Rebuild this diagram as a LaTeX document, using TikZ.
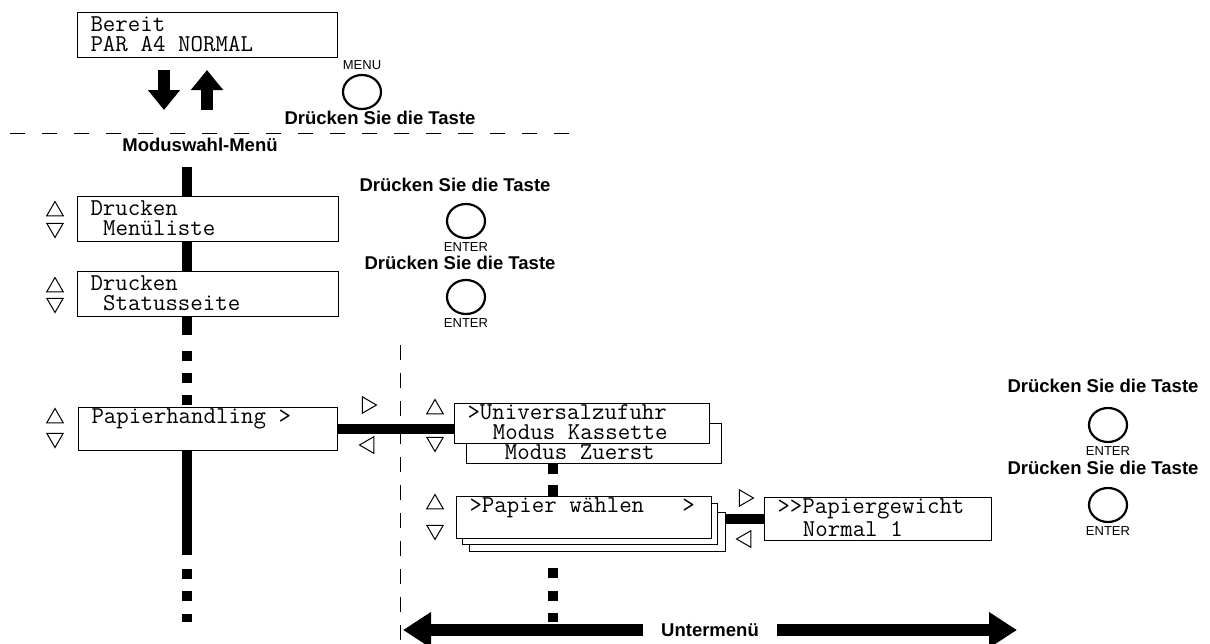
\documentclass[tikz,border=0pt]{standalone}
\usepackage{fontspec}
\setmainfont{Liberation Sans}
\usetikzlibrary{shapes.geometric,arrows.meta,positioning}

\newcommand\lcdstrut{\rule[-4pt]{0pt}{20pt}}
\newcommand\lcdsp{\leavevmode\hbox to 0.525em{}}

\tikzset{
  lcd/.style={rectangle, draw, line width=1pt, fill=white, anchor=north west,
    align=left, inner xsep=13pt, inner ysep=0pt, minimum height=45pt,
    text width=234pt, font=\fontsize{24.2}{20}\selectfont\ttfamily,
    execute at begin node=\lcdstrut, execute at end node=\lcdstrut},
  key/.style={ellipse, draw, line width=2.2pt, minimum width=38pt,
    minimum height=34pt, inner sep=0pt},
  keyname/.style={inner sep=0pt, font=\fontsize{13}{14}\selectfont},
  hint/.style={inner sep=0pt, font=\fontsize{18.5}{20}\selectfont\bfseries},
  tri/.style={regular polygon, regular polygon sides=3, draw, line width=1pt,
    minimum size=19pt, inner sep=0pt},
  bar/.style={line width=10.5pt},
  fatarrow/.style={line width=12pt, -{Triangle[width=31pt,length=20pt]}},
}

\begin{document}
\begin{tikzpicture}[x=1pt, y=-1pt]
    \useasboundingbox (0,0) rectangle (1210,643);

    % Ausgangszustand
    \node (bereit) [lcd] at (77,12) {Bereit\\PAR\lcdsp A4\lcdsp NORMAL};
    \coordinate (dnA) at (164,70);
    \coordinate (dnB) at (164,110);
    \draw[fatarrow] (dnA) -- (dnB);
    \draw[fatarrow] (dnB -| 207,0) -- (dnA -| 207,0);
    \node (menukey) [key] at (362,92) {};
    \node [keyname, above=4pt of menukey] {MENU};
    \node (menuhint) [hint] at (380,118) {Drücken Sie die Taste};
    \draw[line width=1pt, dash pattern=on 15pt off 17pt] (10,133) -- (570,133);

    % Moduswahl-Menue
    \node (modesel) [hint] at (200,145) {Moduswahl-Menü};
    \coordinate (spine) at (187,167);
    \node (menulist) [lcd, text width=235pt] at (77,196) {Drucken\\\lcdsp Menüliste};
    \node (statuspage) [lcd, text width=235pt] at (77,271) {Drucken\\\lcdsp Statusseite};
    \node (paperhandling) [lcd, text width=233pt, minimum height=41pt] at (78,407) {Papierhandling\lcdsp>\\\lcdsp};
    \coordinate (spineend) at (187,622);

    \draw[bar] (spine) -- (spine |- menulist.north);
    \draw[bar] (menulist.south -| spine) -- (statuspage.north -| spine);
    \draw[bar, dash pattern=on 18pt off 16pt on 10pt off 12pt on 10pt off 12pt on 10pt off 40pt]
        (statuspage.south -| spine) -- (paperhandling.north -| spine);
    \draw[bar, dash pattern=on 104pt off 14pt on 10pt off 12pt on 10pt off 13pt on 10pt off 40pt]
        (paperhandling.south -| spine) -- (spineend);

    \node [tri] at (55,211) {};
    \node [tri, rotate=180] at (55,228) {};
    \node [tri] at (55,287) {};
    \node [tri, rotate=180] at (55,303) {};
    \node [tri] at (55,418) {};
    \node [tri, rotate=180] at (55,438) {};

    % Tasten ENTER
    \node (enterhintA) [hint] at (455,185) {Drücken Sie die Taste};
    \node (enterA) [key] at (466,221) {};
    \node [keyname, below=3pt of enterA] {ENTER};
    \node (enterhintB) [hint] at (460,263) {Drücken Sie die Taste};
    \node (enterB) [key] at (466,297) {};
    \node [keyname, below=3pt of enterB] {ENTER};

    % Untermenue
    \draw[line width=1pt, dash pattern=on 15pt off 13pt] (400,345) -- (400,643);
    \node (universalback) [lcd, text width=229pt, minimum height=40pt] at (466,423) {\lcdsp\\\lcdsp\lcdsp Modus\lcdsp Zuerst};
    \node (universal) [lcd, text width=229pt, minimum height=40pt] at (454,403) {>Universalzufuhr\\\lcdsp\lcdsp Modus\lcdsp Kassette};
    \draw[bar] (paperhandling.east) -- (paperhandling.east -| universal.west);
    \node [tri, rotate=-90] at (367,405) {};
    \node [tri, rotate=90] at (369,445) {};
    \node [tri] at (435,409) {};
    \node [tri, rotate=180] at (435,442) {};

    \node (paperback2) [lcd, text width=230pt, minimum height=39pt] at (469,512) {};
    \node (paperback1) [lcd, text width=229pt, minimum height=41pt] at (462,503) {};
    \node (paperselect) [lcd, text width=229pt, minimum height=40pt] at (456,496) {>Papier\lcdsp wählen\lcdsp\lcdsp\lcdsp>\\\lcdsp};
    \node (paperweight) [lcd, text width=201pt, minimum height=40pt] at (764,497) {>>Papiergewicht\\\lcdsp\lcdsp Normal\lcdsp 1};
    \coordinate (subspine) at (553,622);
    \draw[bar, dash pattern=on 10pt off 11pt on 12pt off 20pt]
        (universalback.south -| subspine) -- (paperselect.north -| subspine);
    \draw[bar, dash pattern=on 0pt off 16pt on 10pt off 13pt on 10pt off 12pt on 10pt off 20pt]
        (paperback2.south -| subspine) -- (subspine);
    \draw[bar] (paperweight.west) -- (paperweight.west -| paperback2.east);
    \node [tri, rotate=-90] at (744,498) {};
    \node [tri, rotate=90] at (746,539) {};
    \node [tri] at (435,504) {};
    \node [tri, rotate=180] at (435,530) {};

    \node (enterhintC) [hint] at (1103,386) {Drücken Sie die Taste};
    \node (enterC) [key] at (1108,425) {};
    \node [keyname, below=3pt of enterC] {ENTER};
    \node (enterhintD) [hint] at (1103,468) {Drücken Sie die Taste};
    \node (enterD) [key] at (1108,505) {};
    \node [keyname, below=3pt of enterD] {ENTER};

    \coordinate (subL) at (403,630);
    \coordinate (subR) at (1017,630);
    \draw[line width=12pt, {Triangle[width=34pt,length=28pt]}-{Triangle[width=34pt,length=28pt]}]
        (subL) -- node (submenu) [hint, fill=white, minimum width=134pt, minimum height=20pt] {Untermenü} (subR);
\end{tikzpicture}
\end{document}
